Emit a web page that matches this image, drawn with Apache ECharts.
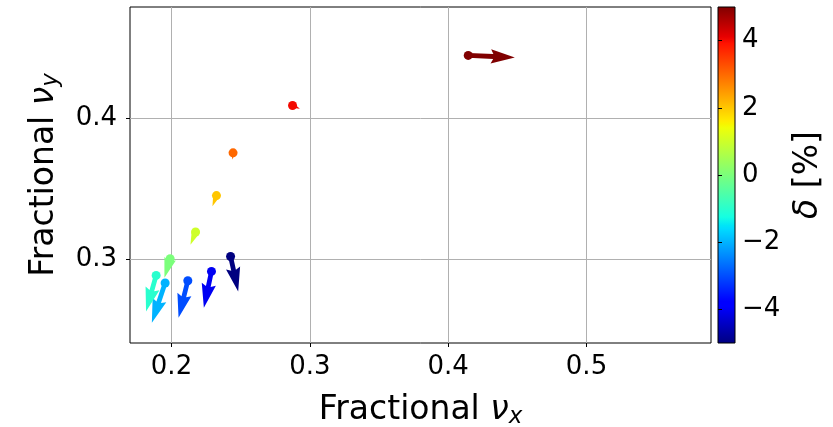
<!DOCTYPE html>
<html>
<head>
<meta charset="utf-8">
<script src="https://cdn.jsdelivr.net/npm/echarts@6/dist/echarts.min.js"></script>
<style>html,body{margin:0;padding:0;background:#fff}#c{width:833px;height:427px}</style>
</head>
<body>
<div id="c"></div>
<script>
// ---- data ----
const deltaPct = [-5, -4, -3, -2, -1, 0, 1, 2, 3, 4, 5];
const nuX  = [0.2427, 0.2289, 0.2118, 0.1954, 0.1889, 0.1990, 0.2174, 0.2325, 0.2445, 0.2875, 0.4145];
const nuY  = [0.3023, 0.2917, 0.2851, 0.2835, 0.2889, 0.3007, 0.3196, 0.3454, 0.3757, 0.4092, 0.4447];
const dNuX = [0.0055, -0.0055, -0.0067, -0.0096, -0.0073, -0.0041, -0.0037, -0.0029, -0.0004, 0.0053, 0.0337];
const dNuY = [-0.0248, -0.0257, -0.0262, -0.0282, -0.0256, -0.0135, -0.0090, -0.0076, -0.0048, -0.0023, -0.0014];
const xTicks = [0.2, 0.3, 0.4, 0.5];
const yTicks = [0.3, 0.4];
const cbTicks = [-4, -2, 0, 2, 4];
const cbMin = -5, cbMax = 5;

// ---- jet colormap (matplotlib segment data) ----
const JET = {
  r: [[0,0],[0.35,0],[0.66,1],[0.89,1],[1,0.5]],
  g: [[0,0],[0.125,0],[0.375,1],[0.64,1],[0.91,0],[1,0]],
  b: [[0,0.5],[0.11,1],[0.34,1],[0.65,0],[1,0]]
};
function seg(pts, t) {
  for (let i = 1; i < pts.length; i++) {
    if (t <= pts[i][0]) {
      const [t0, v0] = pts[i-1], [t1, v1] = pts[i];
      return v0 + (v1 - v0) * (t - t0) / (t1 - t0);
    }
  }
  return pts[pts.length-1][1];
}
function jet(t) {
  t = Math.max(0, Math.min(1, t));
  const c = k => Math.round(seg(JET[k], t) * 255);
  return 'rgb(' + c('r') + ',' + c('g') + ',' + c('b') + ')';
}
const colorOf = d => jet((d - cbMin) / (cbMax - cbMin));
const stopTs = [0, 0.11, 0.125, 0.34, 0.35, 0.375, 0.5, 0.64, 0.65, 0.66, 0.89, 0.91, 1];
const gradient = {
  type: 'linear', x: 0, y: 1, x2: 0, y2: 0,
  colorStops: stopTs.map(t => ({ offset: t, color: jet(t) }))
};

const arrowData = deltaPct.map((d, i) => [nuX[i], nuY[i], dNuX[i], dNuY[i], d]);
const dotData = deltaPct.map((d, i) => ({ value: [nuX[i], nuY[i]], itemStyle: { color: colorOf(d), opacity: 1 } }));

const FONT = 'DejaVu Sans';
const W = 4.8; // shaft width in px

function renderArrow(params, api) {
  const x = api.value(0), y = api.value(1), u = api.value(2), v = api.value(3), d = api.value(4);
  const p0 = api.coord([x, y]);
  const p1 = api.coord([x + u, y + v]);
  const dx = p1[0] - p0[0], dy = p1[1] - p0[1];
  const L = Math.hypot(dx, dy);
  let w = W, hl = 5 * W, hal = 4.5 * W, hw = 3 * W;
  if (L < hl) { const s = L / hl; w *= s; hl *= s; hal *= s; hw *= s; }
  const local = [
    [0, -w/2], [L - hal, -w/2], [L - hl, -hw/2], [L, 0],
    [L - hl, hw/2], [L - hal, w/2], [0, w/2]
  ];
  const a = Math.atan2(dy, dx), ca = Math.cos(a), sa = Math.sin(a);
  const pts = local.map(([lx, ly]) => [p0[0] + lx*ca - ly*sa, p0[1] + lx*sa + ly*ca]);
  return { type: 'polygon', shape: { points: pts }, style: { fill: colorOf(d), stroke: null } };
}

const NS = 33, SS = 23, TS = 26;
const nameRich = {
  a: { fontSize: NS, fontFamily: FONT, color: '#000' },
  b: { fontSize: NS, fontFamily: FONT, fontStyle: 'italic', color: '#000' },
  c: { fontSize: SS, fontFamily: FONT, fontStyle: 'italic', color: '#000', padding: [14, 0, 0, 0] }
};

const chart = echarts.init(document.getElementById('c'), null, { renderer: 'canvas' });
chart.setOption({
  animation: false,
  backgroundColor: '#fff',
  textStyle: { fontFamily: FONT },
  grid: [
    { left: 130, right: 122, top: 7, bottom: 84, show: true, borderColor: '#000', borderWidth: 1,
      backgroundColor: 'transparent', z: 0, containLabel: false, outerBoundsMode: 'none' },
    { left: 718, width: 17, top: 7, bottom: 84, show: true, borderColor: '#000', borderWidth: 1,
      backgroundColor: gradient, containLabel: false, outerBoundsMode: 'none' }
  ],
  xAxis: [
    {
      gridIndex: 0, type: 'value', min: 0.17, max: 0.59,
      axisLine: { show: false },
      axisTick: { show: true, length: 4, lineStyle: { color: '#000' }, customValues: xTicks },
      axisLabel: { customValues: xTicks, fontSize: TS, color: '#000', fontFamily: FONT, margin: 11 },
      splitLine: { show: true, lineStyle: { color: '#b0b0b0', width: 1 } },
      name: '{a|Fractional }{b|ν}{c|x}', nameLocation: 'middle', nameGap: 49,
      nameTextStyle: { color: '#000', fontFamily: FONT, fontSize: NS, rich: nameRich }
    },
    { gridIndex: 1, type: 'value', min: 0, max: 1, show: false }
  ],
  yAxis: [
    {
      gridIndex: 0, type: 'value', min: 0.241, max: 0.479,
      axisLine: { show: false },
      axisTick: { show: true, length: 4, lineStyle: { color: '#000' }, customValues: yTicks },
      axisLabel: { customValues: yTicks, fontSize: TS, color: '#000', fontFamily: FONT, margin: 13 },
      splitLine: { show: true, lineStyle: { color: '#b0b0b0', width: 1 } },
      name: '{a|Fractional }{b|ν}{c|y}', nameLocation: 'middle', nameGap: 67,
      nameTextStyle: { color: '#000', fontFamily: FONT, fontSize: NS, rich: nameRich }
    },
    {
      gridIndex: 1, type: 'value', min: cbMin, max: cbMax, position: 'right',
      axisLine: { show: false },
      axisTick: { show: true, length: 4, lineStyle: { color: '#000' }, customValues: cbTicks },
      axisLabel: { customValues: cbTicks, fontSize: TS, color: '#000', fontFamily: FONT, margin: 7,
        formatter: v => (v < 0 ? '\u2212' + Math.abs(v) : String(v)) },
      splitLine: { show: false },
      name: '{b|δ} [%]', nameLocation: 'middle', nameGap: 57, nameRotate: 90,
      nameTextStyle: {
        color: '#000', fontFamily: FONT, fontSize: NS,
        rich: { b: { fontSize: NS, fontFamily: FONT, fontStyle: 'italic', color: '#000' } }
      }
    }
  ],
  series: [
    { type: 'custom', xAxisIndex: 0, yAxisIndex: 0, renderItem: renderArrow, data: arrowData, z: 3, clip: false },
    { type: 'scatter', xAxisIndex: 0, yAxisIndex: 0, data: dotData, symbol: 'circle', symbolSize: 9, z: 4 }
  ]
});
</script>
</body>
</html>
